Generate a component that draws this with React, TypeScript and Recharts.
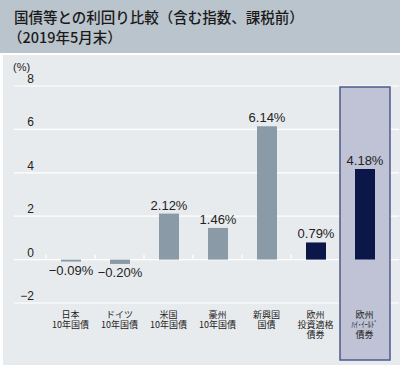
import {
  BarChart,
  Bar,
  XAxis,
  YAxis,
  CartesianGrid,
  Cell,
  LabelList,
  ReferenceArea,
  ReferenceLine,
} from "recharts";

// 国債等との利回り比較（2019年5月末）
const categories = ["日本", "ドイツ", "米国", "豪州", "新興国", "欧州IG", "欧州HY"];
const tickLabels = [
  ["日本", "10年国債"],
  ["ドイツ", "10年国債"],
  ["米国", "10年国債"],
  ["豪州", "10年国債"],
  ["新興国", "国債"],
  ["欧州", "投資適格", "債券"],
  ["欧州", "ﾊｲ･ｲｰﾙﾄﾞ", "債券"],
];
const yields = [-0.09, -0.2, 2.12, 1.46, 6.14, 0.79, 4.18];
const isEuro = [false, false, false, false, false, true, true];
const yTicks = [-2, 0, 2, 4, 6, 8];

const data = categories.map((name, i) => ({ name, value: yields[i] }));

const GRAY = "#8a9ba7";
const NAVY = "#0b1748";
const FONT = "'Liberation Sans', 'Noto Sans CJK JP', sans-serif";
const JP = "'Noto Sans CJK JP', sans-serif";

const fmt = (v: number) => (v < 0 ? "\u2212" + Math.abs(v).toFixed(2) : v.toFixed(2)) + "%";

const ValueLabel = (props: any) => {
  const { x, y, width, height, value } = props;
  const top = Math.min(y, y + height);
  const bottom = Math.max(y, y + height);
  const cx = x + width / 2;
  return (
    <text
      x={cx}
      y={value < 0 ? bottom + 13 : top - 4}
      textAnchor="middle"
      fontSize={13}
      fontFamily={FONT}
      fill="#222"
    >
      {fmt(value)}
    </text>
  );
};

const YTick = ({ y, payload }: any) => (
  <text x={34} y={y - 3} textAnchor="end" fontSize={12} fontFamily={FONT} fill="#222">
    {payload.value < 0 ? "\u2212" + Math.abs(payload.value) : payload.value}
  </text>
);

const XTick = ({ x, y, index }: any) => {
  const lines = tickLabels[index] || [];
  return (
    <g>
      {lines.map((l, k) => (
        <text
          key={k}
          x={x}
          y={y + 15 + k * 10}
          textAnchor="middle"
          fontSize={9}
          fontFamily={JP}
          fill="#222"
          {...(l.startsWith("ﾊ") ? { textLength: 26, lengthAdjust: "spacingAndGlyphs" } : {})}
        >
          {l}
        </text>
      ))}
    </g>
  );
};

const BoxFill = (p: any) => (
  <rect x={p.x} y={p.y + 1} width={p.width + 1} height={p.height + 56} fill="#c0c3d6" />
);
const BoxLine = (p: any) => (
  <rect
    x={p.x}
    y={p.y + 1}
    width={p.width + 1}
    height={p.height + 56}
    fill="none"
    stroke="#4c5a8c"
    strokeWidth={1.5}
  />
);

export default function App() {
  return (
    <div
      style={{
        position: "absolute",
        left: 0,
        top: 0,
        width: 400,
        height: 370,
        background: "#fff",
        overflow: "hidden",
      }}
    >
      <div
        style={{
          position: "absolute",
          left: 0,
          top: 0,
          width: 400,
          height: 53,
          background: "#bac4cc",
          fontFamily: JP,
          color: "#1a1a1a",
          fontSize: 14.5,
          fontWeight: 500,
        }}
      >
        <div style={{ position: "absolute", left: 14, top: 6, whiteSpace: "nowrap" }}>
          国債等との利回り比較（含む指数、課税前）
        </div>
        <div style={{ position: "absolute", left: 8, top: 26, whiteSpace: "nowrap" }}>
          （2019年5月末）
        </div>
      </div>
      <div
        style={{
          position: "absolute",
          left: 3,
          top: 55,
          width: 397,
          height: 310,
          background: "#e8ebee",
        }}
      />
      <div
        style={{
          position: "absolute",
          left: 13,
          top: 61,
          fontFamily: FONT,
          fontSize: 11,
          color: "#222",
        }}
      >
        (%)
      </div>
      <div style={{ position: "absolute", left: 0, top: 0 }}>
        <BarChart
          width={400}
          height={370}
          data={data}
          margin={{ top: 86, right: 1, bottom: 7, left: 0 }}
        >
          <ReferenceArea x1="欧州HY" x2="欧州HY" shape={BoxFill} />
          <CartesianGrid horizontal vertical={false} stroke="#fff" strokeWidth={1.2} />
          <ReferenceArea x1="欧州HY" x2="欧州HY" shape={BoxLine} />
          {categories.slice(0, 6).map((c) => (
            <ReferenceLine
              key={c}
              segment={[
                { x: c, y: 0 },
                { x: c, y: 0.23 },
              ]}
              position="start"
              stroke="#fff"
              strokeWidth={1.2}
            />
          ))}
          <XAxis
            dataKey="name"
            height={60}
            axisLine={false}
            tickLine={false}
            tickSize={0}
            tickMargin={0}
            interval={0}
            padding={{ left: 32, right: 10 }}
            tick={<XTick />}
          />
          <YAxis
            width={14}
            domain={[-2, 8]}
            ticks={yTicks}
            interval={0}
            axisLine={false}
            tickLine={false}
            tick={<YTick />}
          />
          <Bar dataKey="value" barSize={20} isAnimationActive={false}>
            {data.map((d, i) => (
              <Cell key={d.name} fill={isEuro[i] ? NAVY : GRAY} />
            ))}
            <LabelList dataKey="value" content={<ValueLabel />} />
          </Bar>
        </BarChart>
      </div>
    </div>
  );
}
